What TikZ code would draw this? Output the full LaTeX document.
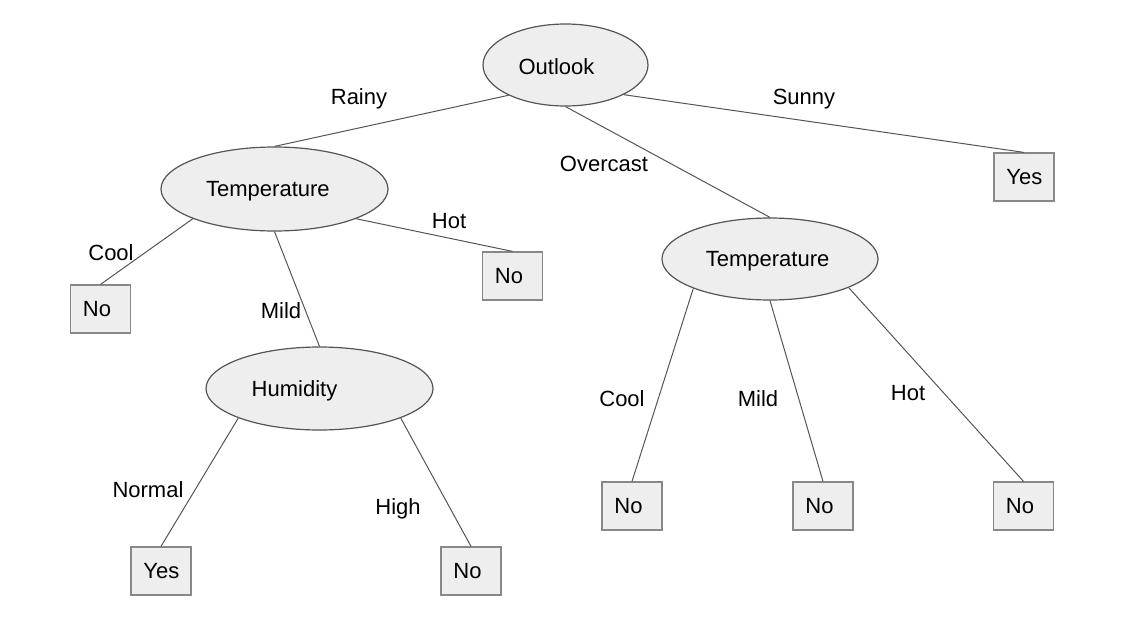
\documentclass[tikz,border=0pt]{standalone}
\usepackage{fontspec}
\setmainfont{Liberation Sans}
\usetikzlibrary{shapes.geometric}
\definecolor{nodefill}{HTML}{EEEEEE}
\definecolor{ellline}{HTML}{555555}
\definecolor{boxline}{HTML}{888888}
\definecolor{edgeline}{HTML}{555555}
\tikzset{
  attr/.style={ellipse, draw=ellline, fill=nodefill, inner sep=0pt, line width=0.6pt},
  leaf/.style={rectangle, draw=boxline, fill=nodefill, minimum width=30pt, minimum height=24pt, inner xsep=6.2pt, inner ysep=0pt, text width=17.6pt, align=left, line width=0.6pt},
  edge/.style={draw=edgeline, line width=0.5pt},
  elabel/.style={inner sep=0pt, yshift=-1pt}
}
\begin{document}
\begin{tikzpicture}[x=0.5pt, y=-0.5pt, font=\fontsize{11}{13}\selectfont]
	  \useasboundingbox (0,0) rectangle (1131,627);
	  %attribute nodes
	  \node[attr, minimum width=82.5pt, minimum height=41pt, label={[xshift=-4.5pt, yshift=-1pt]center:Outlook}] (outlook) at (565.5,65) {};
	  \node[attr, minimum width=113.5pt, minimum height=42pt, label={[xshift=-3.3pt, yshift=-1pt]center:Temperature}] (templeft) at (274.5,189) {};
	  \node[attr, minimum width=108pt, minimum height=41pt, label={[xshift=-1.2pt, yshift=-1pt]center:Temperature}] (tempright) at (770,259) {};
	  \node[attr, minimum width=113.5pt, minimum height=41.5pt, label={[xshift=-12.5pt, yshift=-1pt]center:Humidity}] (humidity) at (319.5,388.5) {};
	  %leaves
	  \node[leaf] (sunnyyes) at (1024,177) {Yes};
	  \node[leaf] (coolno) at (100.5,309) {No};
	  \node[leaf] (hotno) at (512.5,276) {No};
	  \node[leaf] (normalyes) at (161,571) {Yes};
	  \node[leaf] (highno) at (471,571) {No};
	  \node[leaf] (ovcoolno) at (632,506) {No};
	  \node[leaf] (ovmildno) at (823,506) {No};
	  \node[leaf] (ovhotno) at (1023.5,506) {No};
	  %branches
	  \draw[edge] (outlook.208) -- (templeft.north);
	  \draw[edge] (outlook.south) -- (tempright.north);
	  \draw[edge] (outlook.333) -- (sunnyyes.north);
	  \draw[edge] (templeft.200) -- (coolno.north);
	  \draw[edge] (templeft.south) -- (humidity.north);
	  \draw[edge] (templeft.340) -- (hotno.north);
	  \draw[edge] (humidity.200) -- (normalyes.north);
	  \draw[edge] (humidity.340) -- (highno.north);
	  \draw[edge] (tempright.201) -- (ovcoolno.north);
	  \draw[edge] (tempright.south) -- (ovmildno.north);
	  \draw[edge] (tempright.340) -- (ovhotno.north);
	  %branch labels
	  \node[elabel] (lrainy) at (359,97) {Rainy};
	  \node[elabel] (lsunny) at (804,97) {Sunny};
	  \node[elabel] (lovercast) at (604,162) {Overcast};
	  \node[elabel] (lcool) at (111,251) {Cool};
	  \node[elabel] (lhot) at (449,219) {Hot};
	  \node[elabel] (lmild) at (281,309) {Mild};
	  \node[elabel] (lnormal) at (148,488) {Normal};
	  \node[elabel] (lhigh) at (398,507) {High};
	  \node[elabel] (lcool2) at (622,397) {Cool};
	  \node[elabel] (lmild2) at (758,397) {Mild};
	  \node[elabel] (lhot2) at (908,391) {Hot};
	\end{tikzpicture}
\end{document}
